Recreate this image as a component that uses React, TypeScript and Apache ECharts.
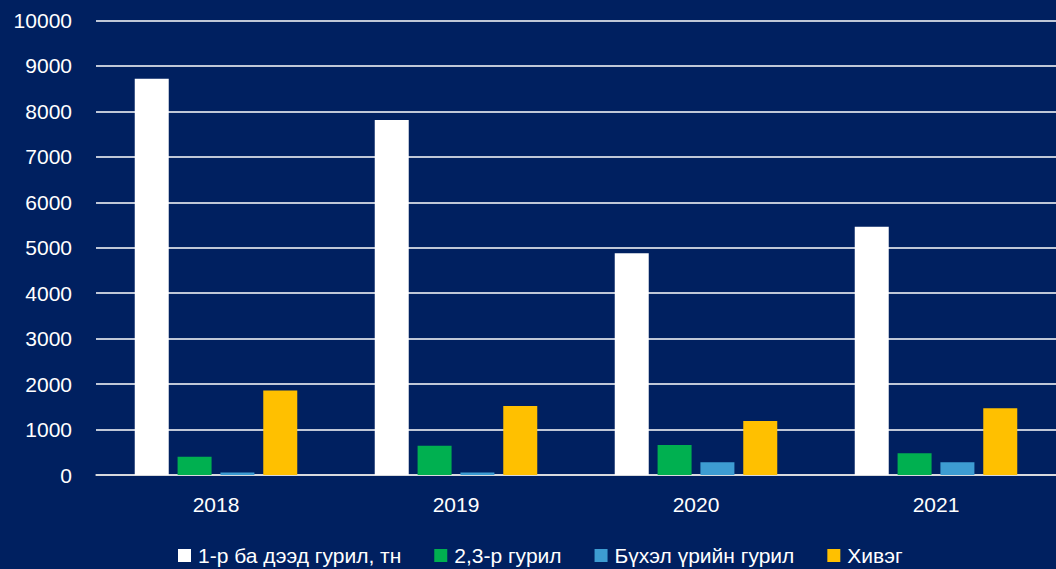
import React, { useEffect, useRef } from "react";
import * as echarts from "echarts";

const years = ["2018", "2019", "2020", "2021"];
const seriesNames = [
  "1-р ба дээд гурил, тн",
  "2,3-р гурил",
  "Бүхэл үрийн гурил",
  "Хивэг",
];
const topFlour = [8720, 7810, 4880, 5460];
const secondFlour = [400, 645, 660, 480];
const wholeGrain = [55, 55, 280, 280];
const bran = [1860, 1520, 1190, 1470];
const colors = ["#ffffff", "#00b050", "#3d9cd2", "#ffc000"];

const FONT = "'Liberation Sans', Arial, sans-serif";

export default function App() {
  const ref = useRef<HTMLDivElement>(null);
  useEffect(() => {
    if (!ref.current) return;
    const chart = echarts.init(ref.current, undefined, { renderer: "svg" });
    const data = [topFlour, secondFlour, wholeGrain, bran];
    chart.setOption({
      animation: false,
      backgroundColor: "#002060",
      textStyle: { fontFamily: FONT },
      grid: { left: 96, right: 0, top: 20.5, bottom: 94, containLabel: false },
      legend: {
        left: 173,
        top: 540,
        itemWidth: 13,
        itemHeight: 13,
        itemGap: 33,
        icon: "rect",
        textStyle: { color: "#ffffff", fontSize: 21, fontFamily: FONT, padding: [0, 0, 0, 2] },
        data: seriesNames,
      },
      xAxis: {
        type: "category",
        data: years,
        axisLine: { lineStyle: { color: "#e0e0e0", width: 1.5 } },
        axisTick: { show: false },
        axisLabel: { color: "#ffffff", fontSize: 21, margin: 19, fontFamily: FONT },
      },
      yAxis: {
        type: "value",
        min: 0,
        max: 10000,
        interval: 1000,
        axisLine: { show: false },
        axisTick: { show: false },
        axisLabel: {
          color: "#ffffff",
          fontSize: 21,
          margin: 24,
          fontFamily: FONT,
          formatter: (v: number) => String(v),
        },
        splitLine: { lineStyle: { color: "#ffffff", width: 1.5 } },
      },
      series: seriesNames.map((name, i) => ({
        name,
        type: "bar",
        data: data[i],
        barWidth: 34,
        barGap: "26%",
        itemStyle: { color: colors[i] },
      })),
    });
    return () => chart.dispose();
  }, []);
  return (
    <div
      ref={ref}
      style={{ position: "fixed", left: 0, top: 0, width: 1056, height: 569 }}
    />
  );
}
